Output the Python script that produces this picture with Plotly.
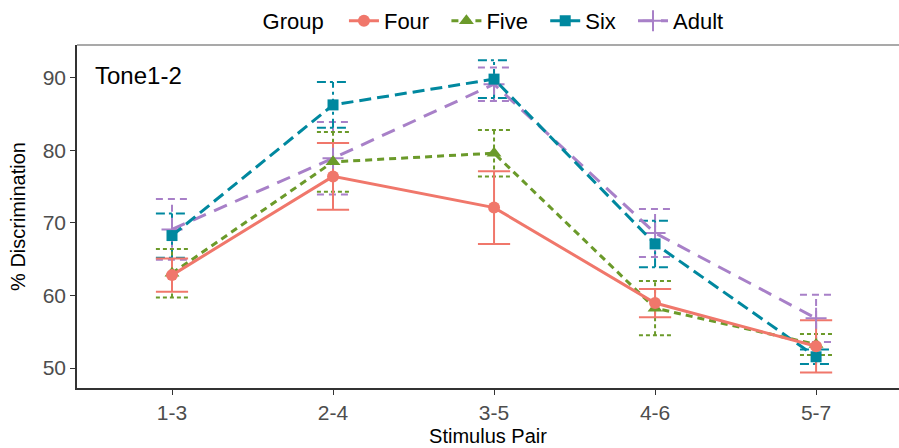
import plotly.graph_objects as go

# Stimulus pairs on the x axis
pairs = ["1-3", "2-4", "3-5", "4-6", "5-7"]

# Mean % discrimination and standard errors per age group
four_mean = [62.8, 76.4, 72.1, 58.95, 53.0]
four_se = [2.3, 4.6, 5.0, 1.95, 3.6]

five_mean = [63.05, 78.4, 79.6, 58.25, 53.25]
five_se = [3.35, 4.1, 3.2, 3.75, 1.45]

six_mean = [68.25, 86.25, 89.8, 67.1, 51.55]
six_se = [3.05, 3.15, 2.6, 3.2, 1.0]

adult_mean = [69.1, 78.9, 89.1, 68.6, 56.85]
adult_se = [4.2, 5.0, 2.3, 3.3, 3.25]

y_ticks = [50, 60, 70, 80, 90]

FONT = "Arial, Liberation Sans, sans-serif"
CAP = 0.1  # half width of the error bar caps, in category units
PAD = "\u00a0\u00a0"  # extra room after each legend label

groups = [
    # name, means, se, colour, marker symbol, marker size, line dash, error-bar dash
    ("Four", four_mean, four_se, "#F0776B", "circle", 12, "solid", "solid"),
    ("Five", five_mean, five_se, "#6B9A2A", "triangle-up", 13, "7px,5px", "4px,3px"),
    ("Six", six_mean, six_se, "#00889F", "square", 11, "12px,6px", "9px,4px,3px,4px"),
    ("Adult", adult_mean, adult_se, "#A880C8", "cross-thin", 15, "14px,9px", "7px,5px"),
]

fig = go.Figure()

# Later groups are drawn first so that the younger groups sit on top
for rank, (name, mean, se, color, symbol, msize, dash, edash) in reversed(list(enumerate(groups))):
    ex, ey = [], []
    for i, (m, s) in enumerate(zip(mean, se)):
        lo, hi = m - s, m + s
        # vertical bar
        ex += [i, i, None]
        ey += [lo, hi, None]
        # caps
        ex += [i - CAP, i + CAP, None, i - CAP, i + CAP, None]
        ey += [lo, lo, None, hi, hi, None]
    fig.add_trace(go.Scatter(
        x=ex, y=ey, mode="lines",
        line=dict(color=color, width=2, dash=edash),
        showlegend=False, hoverinfo="skip",
    ))

for rank, (name, mean, se, color, symbol, msize, dash, edash) in reversed(list(enumerate(groups))):
    marker = dict(symbol=symbol, size=msize, color=color)
    if symbol == "cross-thin":
        marker["line"] = dict(color=color, width=2)
    fig.add_trace(go.Scatter(
        x=list(range(len(pairs))), y=mean, mode="lines+markers",
        name=name + (PAD if rank < len(groups) - 1 else ""),
        line=dict(color=color, width=3, dash=dash),
        marker=marker, legendrank=rank + 1,
    ))

fig.add_annotation(
    text="Tone1-2", xref="paper", yref="paper", x=0.019, y=0.91,
    xanchor="left", yanchor="middle", showarrow=False,
    font=dict(family=FONT, size=24, color="black"),
)

# light border along the top of the panel
fig.add_shape(type="line", xref="paper", yref="paper", x0=0, x1=1, y0=1, y1=1,
              line=dict(color="#8C8C8C", width=1.5))

fig.update_layout(
    width=899, height=448,
    margin=dict(l=77, r=0, t=44, b=60),
    paper_bgcolor="white", plot_bgcolor="white",
    font=dict(family=FONT, size=20, color="black"),
    legend=dict(
        orientation="h", x=0.508, xanchor="center", y=1.01, yanchor="bottom",
        title=dict(text="Group  ", side="left", font=dict(size=22)),
        font=dict(size=22), itemwidth=30, bgcolor="rgba(0,0,0,0)",
    ),
    xaxis=dict(
        range=[-0.59, 4.515], tickmode="array",
        tickvals=list(range(len(pairs))), ticktext=pairs,
        showgrid=False, zeroline=False,
        showline=True, linecolor="#333333", linewidth=1.5,
        ticks="outside", ticklen=5, tickcolor="#333333",
        tickfont=dict(family=FONT, size=21, color="#4D4D4D"),
        title=dict(text="Stimulus Pair", font=dict(family=FONT, size=20, color="black"), standoff=6),
    ),
    yaxis=dict(
        range=[47.25, 94.5], tickmode="array", tickvals=y_ticks,
        showgrid=False, zeroline=False,
        showline=True, linecolor="#333333", linewidth=1.5,
        ticks="outside", ticklen=5, tickcolor="#333333",
        tickfont=dict(family=FONT, size=21, color="#4D4D4D"),
        title=dict(text="% Discrimination", font=dict(family=FONT, size=20, color="black"), standoff=12),
    ),
)

fig.write_html("out.html")
